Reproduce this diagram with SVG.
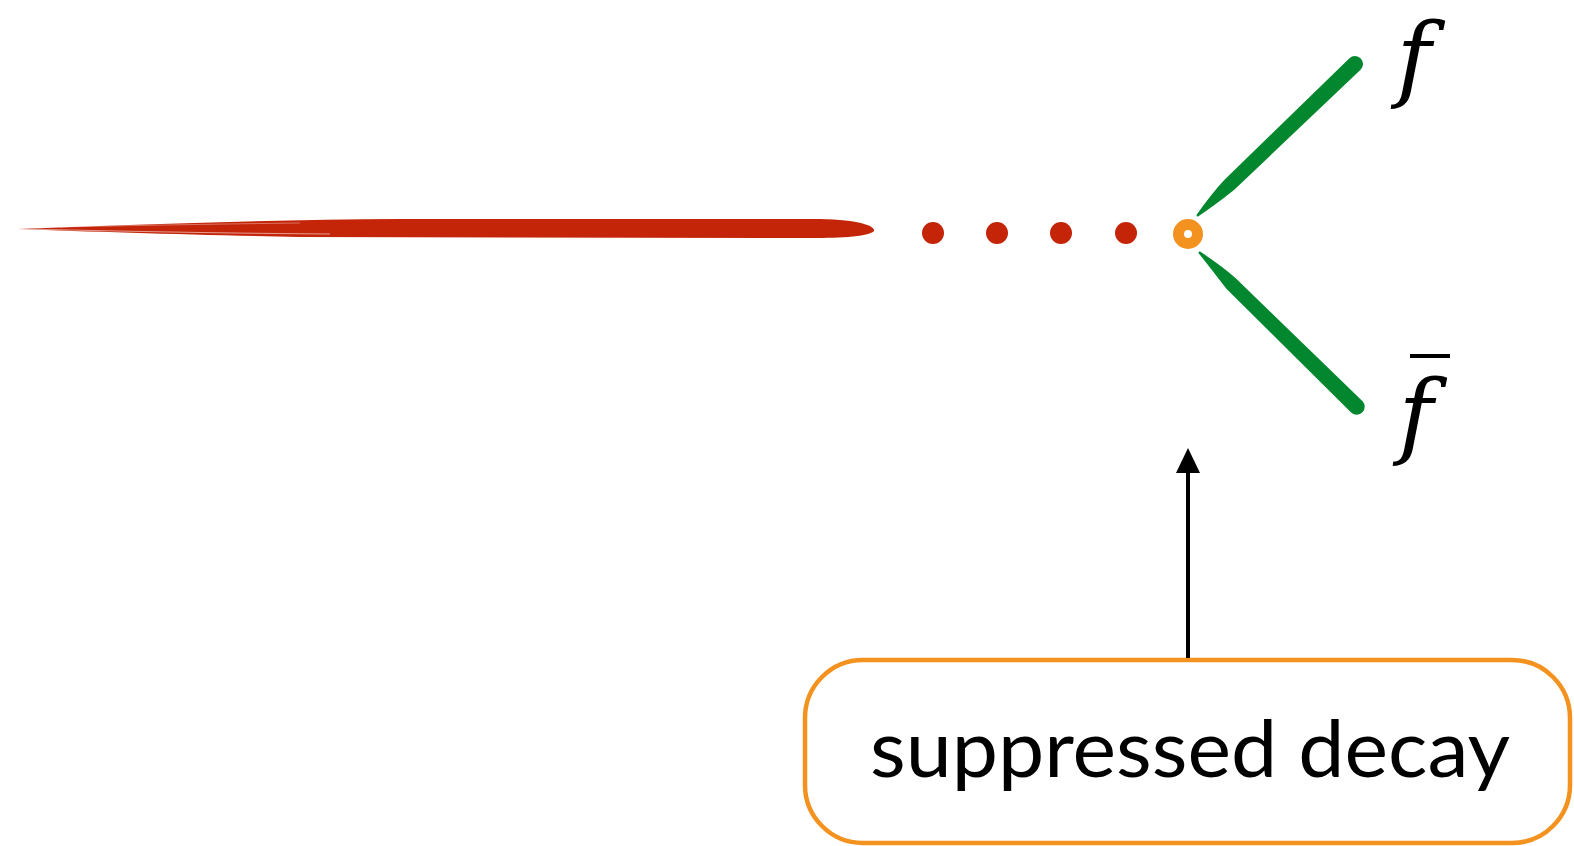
<svg xmlns="http://www.w3.org/2000/svg" width="1574" height="846" viewBox="0 0 1574 846">
  <style>
    .red { fill: #C42408; }
    .green { fill: #02862E; }
    .math { font-family: "DejaVu Serif", "Liberation Serif", serif; font-style: italic; font-size: 94px; fill: #000; }
    .label { font-family: Lato, "Noto Sans", "Liberation Sans", sans-serif; font-size: 80px; fill: #000; }
  </style>
  <rect width="1574" height="846" fill="#fff"/>

  <!-- incoming propagator: brushed red stroke -->
  <g id="propagator">
    <path class="red" d="M18,229 C100,226 250,220 400,219 L820,219 C866,220 878,228 873,232 C862,238 830,238 800,238 L300,237 C200,235 100,232 18,229 Z"/>
    <path d="M20,229 C120,231 200,233 330,234" stroke="#fff" stroke-width="0.8" fill="none" opacity="0.7"/>
    <path d="M60,227 C160,225 220,224 300,223" stroke="#fff" stroke-width="0.6" fill="none" opacity="0.6"/>
    <!-- dotted continuation -->
    <circle class="red" cx="933" cy="233" r="11"/>
    <circle class="red" cx="997" cy="233" r="11"/>
    <circle class="red" cx="1061" cy="233" r="11"/>
    <circle class="red" cx="1126" cy="233" r="11"/>
  </g>

  <!-- decay vertex -->
  <g id="vertex">
    <circle cx="1188" cy="234" r="9.5" fill="none" stroke="#F3921F" stroke-width="11"/>
  </g>

  <!-- outgoing fermion lines, tapered toward the vertex -->
  <g id="fermion-f">
    <path class="green" d="M1196.3,215.3 Q1212,193 1224.5,179.8 L1349.45,58.23 A8,8 0 0 1 1360.55,69.77 L1234.3,189.8 Q1214,206 1197.7,216.7 Z"/>
    <text class="math" x="1414" y="90" text-anchor="middle">f</text>
  </g>
  <g id="fermion-fbar">
    <path class="green" d="M1199.7,251.3 Q1222,266 1236,278.5 L1362.6,401.3 A8,8 0 0 1 1351.4,412.7 L1226.2,288.5 Q1212,270 1198.3,252.7 Z"/>
    <rect x="1410" y="354" width="40" height="4" fill="#000"/>
    <text class="math" x="1416" y="447" text-anchor="middle">f</text>
  </g>

  <!-- annotation box -->
  <g id="annotation">
    <rect x="805" y="660" width="765" height="183" rx="58" ry="58" fill="#fff" stroke="#F3921F" stroke-width="4.5"/>
    <text class="label" x="870" y="777" textLength="640" lengthAdjust="spacingAndGlyphs">suppressed decay</text>
  </g>

  <!-- pointer from box to vertex -->
  <g id="connectors">
    <line x1="1188" y1="658" x2="1188" y2="470" stroke="#000" stroke-width="4"/>
    <polygon points="1188,448 1176,473 1200,473" fill="#000"/>
  </g>
</svg>
